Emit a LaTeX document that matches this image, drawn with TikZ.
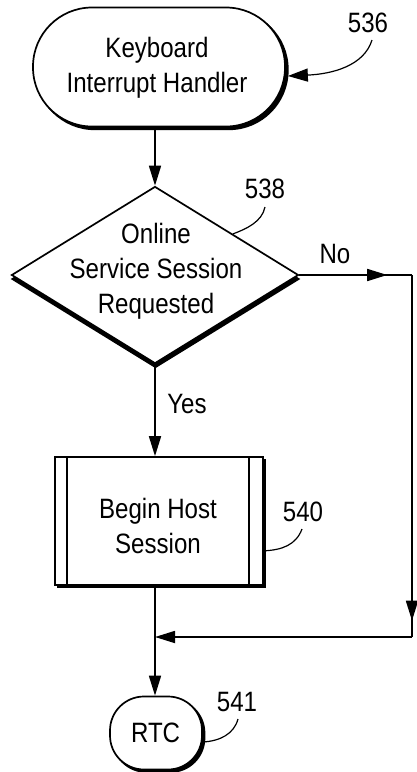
\documentclass[tikz,border=0pt]{standalone}
\usepackage{fontspec}
\setmainfont{Liberation Sans}[FakeStretch=0.86]
\usetikzlibrary{shapes.geometric,shadows,arrows.meta,decorations.markings,calc}
\begin{document}
\begin{tikzpicture}[x=1pt,y=-1pt,
  font=\fontsize{28}{35}\selectfont,
  line width=1.7pt,
  tip/.tip={Triangle[length=20pt,width=12pt]},
  arr/.style={-tip},
  shapebox/.style={draw,fill=white,inner sep=0pt},
  shad/.style={general shadow={draw,fill=black,shadow xshift=#1,shadow yshift=-#1}},
  txt/.style={align=center,inner sep=0pt},
  ref/.style={inner sep=0pt,anchor=base},
  leader/.style={line width=1.2pt}
]
\useasboundingbox (0,0) rectangle (417,772);

% shapes
\node[shapebox,shad=2.8pt,rounded corners=59pt,minimum width=252pt,minimum height=119pt] (kih) at (159,67) {};
\node[txt] (kiht) at (157,67.5) {Keyboard\\Interrupt Handler};

\node[shapebox,diamond,minimum width=287pt,minimum height=177pt,
  general shadow={draw,fill=black,shadow xshift=0.5pt,shadow yshift=-4pt}] (d) at (155,275) {};
\node[txt] (dt) at (156,271) {Online\\Service Session\\Requested};

\node[shapebox,shad=2.5pt,minimum width=208pt,minimum height=128pt] (b) at (159,521) {};
\draw ([xshift=13pt]b.north west) -- ([xshift=13pt]b.south west);
\draw ([xshift=-15pt]b.north east) -- ([xshift=-15pt]b.south east);
\node[txt] (bt) at (158,525.7) {Begin Host\\Session};

\node[shapebox,shad=2.5pt,rounded corners=34pt,minimum width=92pt,minimum height=73pt] (r) at (156,733) {};
\node[txt] (rt) at (155.6,733.3) {RTC};

% coordinates of the No path
\coordinate (c1) at (412,275);
\coordinate (c2) at (412,637);
\coordinate (c3) at (155,637);

% connectors
\draw[arr] (kih.south -| d.north) -- (d.north);
\draw[arr] (d.south) -- (b.north -| d.south);
\draw[arr] (b.south -| d.south) -- (r.north -| d.south);
\draw[postaction={decorate},decoration={markings,
   mark=at position 0.78 with {\arrow{tip}}}] (d.east) -- (c1);
\draw[postaction={decorate},decoration={markings,
   mark=at position 0.955 with {\arrow{tip}}}] (c1) -- (c2);
\draw[arr] (c2) -- (c3);

% labels
\node[ref] (no) at (335,263) {No};
\node[ref] (yes) at (187,413) {Yes};
\node[ref] (n536) at (368,32) {536};
\node[ref] (n538) at (265,198) {538};
\node[ref] (n540) at (303,521) {540};
\node[ref] (n541) at (237,711) {541};

% leaders
\coordinate (l536) at (372,40);
\coordinate (l538) at (265,207);
\coordinate (l540) at (302,529);
\coordinate (l541) at (238,719);
\draw[leader,-{Triangle[length=20pt,width=13pt]}] (l536) .. controls (364,66) and (332,74) .. ([xshift=2pt,yshift=-9pt]kih.east);
\draw[leader] (l538) .. controls (262,222) and (246,229) .. ($(d.north)!0.54!(d.east)$);
\draw[leader] (l540) .. controls (296,545) and (282,550) .. ($(b.north east)!0.73!(b.south east)$);
\draw[leader] (l541) .. controls (234,734) and (220,741) .. ([yshift=-9pt]r.east);
\end{tikzpicture}
\end{document}
